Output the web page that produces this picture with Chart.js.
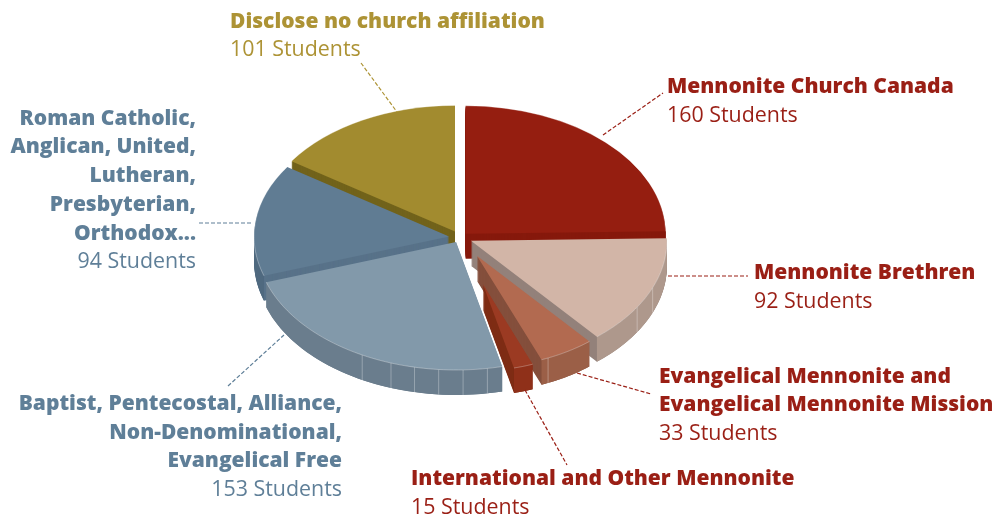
<!DOCTYPE html>
<html>
<head>
<meta charset="utf-8">
<style>
  html, body { margin: 0; padding: 0; background: #fff; }
  canvas { display: block; }
</style>
<script src="https://cdn.jsdelivr.net/npm/chart.js@4"></script>
</head>
<body>
<canvas id="myChart" width="1000" height="517"></canvas>
<script>
var categories = ["Mennonite Church Canada", "Mennonite Brethren", "Evangelical Mennonite and Evangelical Mennonite Mission",
  "International and Other Mennonite", "Baptist, Pentecostal, Alliance, Non-Denominational, Evangelical Free",
  "Roman Catholic, Anglican, United, Lutheran, Presbyterian, Orthodox...", "Disclose no church affiliation"];
var students = [160, 92, 33, 15, 153, 94, 101];

// slice look: top face, cut face, outer wall
var topColors = ["#951e10", "#d2b5a7", "#b26a50", "#9b3a22", "#8299aa", "#607c93", "#a28b2f"];
var cutColors = ["#86190c", "#93817a", "#844f3c", "#7f2d15", "#687b8b", "#587289", "#72631b"];
var wallColors = ["#8a1a0c", "#ae988c", "#9b5f47", "#8f3019", "#6a7d8d", "#4f697f", "#72631b"];
var explode = [8, 12, 33, 76, 8, 11, 10.6];
var radii = [200, 196, 175, 135, 200, 195, 197];
var wallLines = [[], [112, 122], [156], [], [171, 178, 185, 192, 199, 208], [], []];
var tilt = 0.64;
var depth = 25;

var red = "#9a1f15", blue = "#5f7f98", olive = "#ad9335";
var boldFont = "800 21px 'Open Sans'";
var thinFont = "400 21.4px 'Open Sans'";

var callouts = [
  { color: red, align: "left", x: 667, lines: [["Mennonite Church Canada", 93]], count: ["160 Students", 122], leader: [603, 135, 663, 93] },
  { color: red, align: "left", x: 754, lines: [["Mennonite Brethren", 279]], count: ["92 Students", 308], leader: [668, 276, 748, 276] },
  { color: red, align: "left", x: 659, lines: [["Evangelical Mennonite and", 383], ["Evangelical Mennonite Mission", 411]], count: ["33 Students", 440], leader: [577, 373, 651, 394] },
  { color: red, align: "left", x: 411, lines: [["International and Other Mennonite", 485]], count: ["15 Students", 514], leader: [525, 390, 567, 465] },
  { color: blue, align: "right", x: 342, lines: [["Baptist, Pentecostal, Alliance,", 410], ["Non-Denominational,", 439], ["Evangelical Free", 467]], count: ["153 Students", 496], leader: [228, 386, 284, 335] },
  { color: blue, align: "right", x: 196, lines: [["Roman Catholic,", 125], ["Anglican, United,", 153], ["Lutheran,", 182], ["Presbyterian,", 211], ["Orthodox...", 240]], count: ["94 Students", 268], leader: [199, 223, 252, 223] },
  { color: olive, align: "left", x: 230, lines: [["Disclose no church affiliation", 28]], count: ["101 Students", 56], leader: [361, 63, 397, 112] }
];

function flatten(ctx, cy) {
  ctx.translate(0, cy * (1 - tilt));
  ctx.scale(1, tilt);
}

function edgePoint(arc, angle, cy, drop) {
  return {
    x: arc.x + Math.cos(angle) * arc.outerRadius,
    y: cy + (arc.y - cy + Math.sin(angle) * arc.outerRadius) * tilt + drop
  };
}

var pie3d = {
  id: "pie3d",
  afterDatasetUpdate: function (chart) {
    chart.getDatasetMeta(0).data.forEach(function (arc, i) {
      var mid = (arc.startAngle + arc.endAngle) / 2;
      arc.x += Math.cos(mid) * explode[i];
      arc.y += Math.sin(mid) * explode[i];
      arc.outerRadius = radii[i];
    });
  },
  beforeDatasetsDraw: function (chart) {
    var ctx = chart.ctx;
    var cy = (chart.chartArea.top + chart.chartArea.bottom) / 2;
    var arcs = chart.getDatasetMeta(0).data;
    var order = arcs.map(function (a, i) { return i; }).sort(function (a, b) {
      return Math.sin((arcs[a].startAngle + arcs[a].endAngle) / 2) - Math.sin((arcs[b].startAngle + arcs[b].endAngle) / 2);
    });

    order.forEach(function (i) {
      var arc = arcs[i];
      // solid body, stacked from the bottom up
      for (var d = depth; d >= 1; d--) {
        ctx.save();
        ctx.translate(0, d);
        flatten(ctx, cy);
        ctx.beginPath();
        ctx.moveTo(arc.x, arc.y);
        ctx.arc(arc.x, arc.y, arc.outerRadius, arc.startAngle, arc.endAngle);
        ctx.closePath();
        ctx.fillStyle = cutColors[i];
        ctx.fill();
        ctx.restore();
      }
      // outer wall, only the part that faces the viewer
      var from = Math.max(arc.startAngle, 0), to = Math.min(arc.endAngle, Math.PI);
      if (to > from) {
        ctx.beginPath();
        for (var a = 0; a <= 40; a++) {
          var p = edgePoint(arc, from + (to - from) * a / 40, cy, 0);
          ctx.lineTo(p.x, p.y);
        }
        for (a = 40; a >= 0; a--) {
          p = edgePoint(arc, from + (to - from) * a / 40, cy, depth);
          ctx.lineTo(p.x, p.y);
        }
        ctx.closePath();
        ctx.fillStyle = wallColors[i];
        ctx.fill();
      }
      ctx.strokeStyle = "rgba(255,255,255,0.3)";
      ctx.lineWidth = 1;
      wallLines[i].forEach(function (deg) {
        var ang = (deg - 90) * Math.PI / 180;
        var t = edgePoint(arc, ang, cy, 0), b = edgePoint(arc, ang, cy, depth);
        ctx.beginPath();
        ctx.moveTo(t.x, t.y);
        ctx.lineTo(b.x, b.y);
        ctx.stroke();
      });
    });

    ctx.save();
    flatten(ctx, cy);
  },
  afterDatasetsDraw: function (chart) {
    var ctx = chart.ctx;
    ctx.restore();
    var cy = (chart.chartArea.top + chart.chartArea.bottom) / 2;
    // thin light rim on the top faces
    chart.getDatasetMeta(0).data.forEach(function (arc) {
      ctx.beginPath();
      for (var a = 0; a <= 60; a++) {
        var p = edgePoint(arc, arc.startAngle + (arc.endAngle - arc.startAngle) * a / 60, cy, 0);
        ctx.lineTo(p.x, p.y);
      }
      ctx.strokeStyle = "rgba(255,255,255,0.4)";
      ctx.lineWidth = 0.8;
      ctx.stroke();
    });
  },
  afterDraw: function (chart) {
    var ctx = chart.ctx;
    callouts.forEach(function (c) {
      ctx.save();
      ctx.fillStyle = c.color;
      ctx.strokeStyle = c.color;
      ctx.textAlign = c.align;
      ctx.textBaseline = "alphabetic";
      ctx.font = boldFont;
      c.lines.forEach(function (l) { ctx.fillText(l[0], c.x, l[1]); });
      ctx.font = thinFont;
      ctx.fillText(c.count[0], c.x, c.count[1]);
      ctx.lineWidth = 1.2;
      ctx.setLineDash([4, 2]);
      ctx.beginPath();
      ctx.moveTo(c.leader[0], c.leader[1]);
      ctx.lineTo(c.leader[2], c.leader[3]);
      ctx.stroke();
      ctx.restore();
    });
  }
};

new Chart(document.getElementById("myChart").getContext("2d"), {
  type: "pie",
  data: {
    labels: categories,
    datasets: [{
      data: students,
      backgroundColor: topColors,
      borderWidth: 0,
      radius: 200
    }]
  },
  options: {
    responsive: false,
    animation: false,
    events: [],
    layout: { padding: { right: 80, bottom: 42 } },
    plugins: {
      legend: { display: false },
      tooltip: { enabled: false }
    }
  },
  plugins: [pie3d]
});
</script>
</body>
</html>
